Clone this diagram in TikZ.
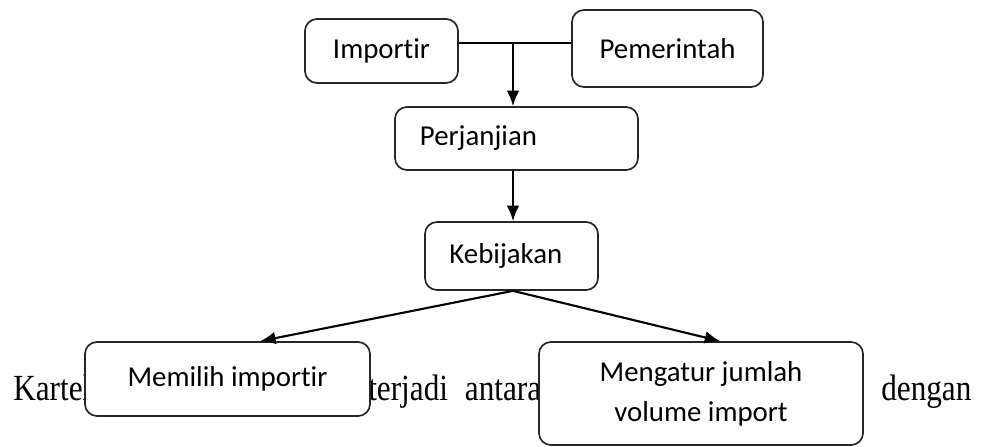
\documentclass[tikz,border=0pt]{standalone}
\usepackage{fontspec}
\usetikzlibrary{positioning, arrows.meta, calc}
\newfontfamily\boxfont[Ligatures=NoCommon]{Carlito}
\newfontfamily\pagefont{Liberation Serif}
\newcommand{\pagetext}[1]{\scalebox{1}[1.18]{#1}}
\tikzset{
  stage/.style = {rectangle, rounded corners=0.3cm, draw=black!85, line width=1.2pt,
                  fill=white, align=center, inner sep=0pt,
                  font=\boxfont\fontsize{20.5}{28.5}\selectfont},
  page/.style  = {inner sep=0pt, anchor=base west,
                  font=\pagefont\fontsize{22.2}{26}\selectfont},
  flow/.style  = {line width=1.5pt, -{Latex[length=11pt, width=9pt]}},
}
\begin{document}
\begin{tikzpicture}[x=0.025cm, y=-0.025cm]
\useasboundingbox (0,0) rectangle (981,447);
\fill[white] (0,0) rectangle (981,447);

% Running text of the page, partly hidden by the boxes
\node (t1) [page] at (13,400) {\pagetext{Kartel}};
\node (t2) [page] at (368,400) {\pagetext{terjadi\hspace{12pt}antara}};
\node (t3) [page] at (881,400) {\pagetext{dengan}};

% Parties
\node (imp) [stage, minimum width=3.825cm, minimum height=1.6cm]   at (381.5,51)  {Importir};
\node (pem) [stage, minimum width=4.775cm, minimum height=1.925cm] at (667.5,48.5) {Pemerintah};

% Agreement and policy
\node (perj) [stage, text width=4.825cm, inner xsep=0.625cm, align=left,
              minimum height=1.575cm] at (516.5,138.5) {Perjanjian};
\node (keb) [stage, minimum width=4.325cm, minimum height=1.7cm] at (511.5,256) {Kebijakan\hspace{8pt}};

% Outcomes
\node (mem) [stage, minimum width=7.125cm, minimum height=1.85cm] at (227.5,379) {Memilih importir};
\node (mgt) [stage, minimum width=8.1cm, minimum height=2.575cm]  at (701,393.5) {Mengatur jumlah\\volume import};

% Flows
\coordinate (join) at (513,43);
\draw [line width=1.5pt] (imp.east |- join) -- (pem.west |- join);
\draw [flow] (join) -- (perj.north -| join);
\draw [flow] (perj.south -| join) -- (keb.north -| join);
\draw [flow] (keb.south -| join) -- ($(mem.north west)!0.614!(mem.north east)$);
\draw [flow] (keb.south -| join) -- ($(mgt.north west)!0.559!(mgt.north east)$);

\end{tikzpicture}
\end{document}
